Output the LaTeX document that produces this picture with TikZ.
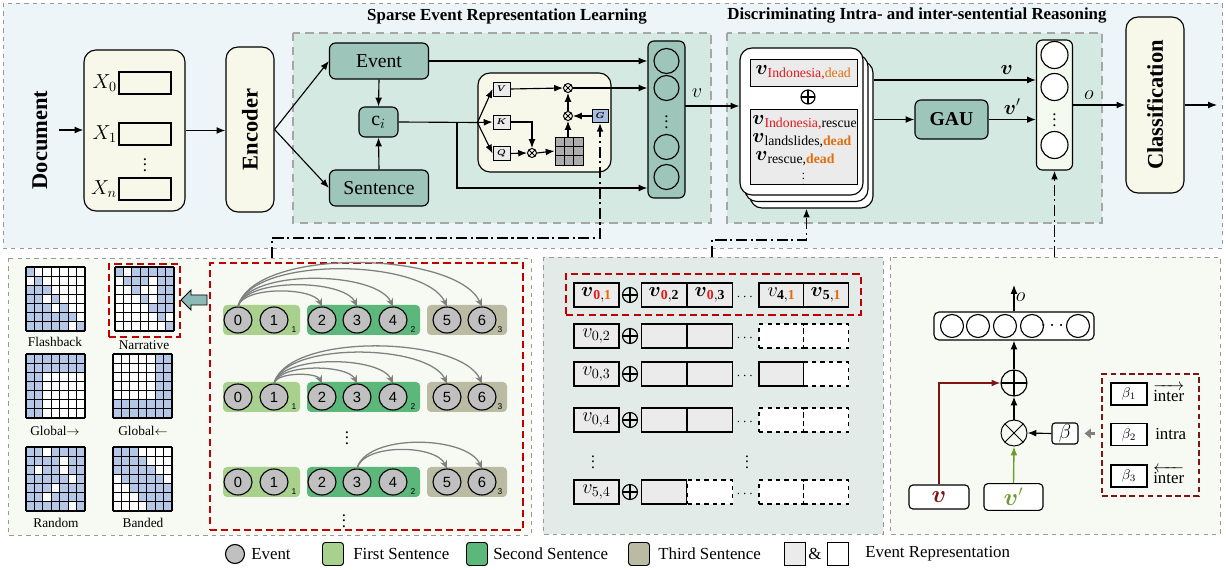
\documentclass[tikz,border=0pt]{standalone}
\usepackage{amsmath}
\usepackage{fontspec}
\setmainfont{Liberation Serif}
\newfontfamily\numfont{Liberation Sans}
\usepackage{tikz}
\usetikzlibrary{shapes.geometric,arrows.meta,positioning,calc}

\definecolor{topbg}{HTML}{EDF5F8}
\definecolor{innerbg}{HTML}{D5E9E3}
\definecolor{tealfill}{HTML}{9DC5B9}
\definecolor{cream}{HTML}{F8F8EA}
\definecolor{panelbg}{HTML}{F7FAF3}
\definecolor{midbg}{HTML}{E2EBE8}
\definecolor{maskblue}{HTML}{B4C7E7}
\definecolor{redline}{HTML}{C00000}
\definecolor{sentA}{HTML}{A9D18E}
\definecolor{sentB}{HTML}{5CB87A}
\definecolor{sentC}{HTML}{BBBAA3}
\definecolor{evgray}{HTML}{C0C0C0}
\definecolor{cellgray}{HTML}{EBEBEB}
\definecolor{gblue}{HTML}{A9BFE0}
\definecolor{darkred}{HTML}{7F1416}
\definecolor{vgreen}{HTML}{6E9B30}
\definecolor{indored}{HTML}{E3191C}
\definecolor{deadorange}{HTML}{E46C0A}
\definecolor{boxgray}{HTML}{A6A6A6}
\definecolor{lightcol}{HTML}{F4FAEF}
\definecolor{arrowteal}{HTML}{8DBAB9}

\newlength\unitpx
\setlength\unitpx{0.025cm}

% 7x7 attention mask, one list of blue columns per row
\newcommand{\maskgrid}[3]{%
  \fill[white] (#1,#2) rectangle ++(59,64);
  \foreach \cols [count=\rw from 0] in {#3} {
    \foreach \cl in \cols {
      \fill[maskblue] (#1+\cl*8.43,#2+\rw*9.14) rectangle ++(8.43,9.14);
    }
  }
  \foreach \k in {0,...,7} {
    \draw[line width=0.9pt] (#1+\k*8.43,#2) -- ++(0,64);
    \draw[line width=0.9pt] (#1,#2+\k*9.14) -- ++(59,0);
  }
}

\newcommand{\vsub}[1]{$\boldsymbol{v}_{\text{#1}}$}

\tikzset{
  arr/.style={-{Latex[length=2.2mm,width=1.7mm]}, line width=0.8pt},
  sz/.style 2 args={minimum width=#1\unitpx, minimum height=#2\unitpx},
  bigfont/.style={font=\fontsize{16}{18}\selectfont\bfseries},
  titlefont/.style={font=\fontsize{12}{14}\selectfont\bfseries},
  midfont/.style={font=\fontsize{14}{16}\selectfont},
  smallfont/.style={font=\fontsize{9.5}{11}\selectfont},
  legfont/.style={font=\fontsize{12}{14}\selectfont, inner sep=0pt, anchor=west},
  dotsfont/.style={font=\fontsize{#1}{#1}\selectfont, inner sep=0pt},
  tealbox/.style={draw, line width=0.8pt, fill=tealfill, rounded corners=6\unitpx, inner sep=0pt, midfont},
  creambox/.style={draw, line width=0.8pt, fill=cream, rounded corners=12\unitpx, inner sep=0pt},
  qkv/.style={draw, line width=0.6pt, fill=cellgray, inner sep=0pt, sz={17}{14}, font=\fontsize{6.5}{7}\selectfont},
  cell/.style={draw, line width=0.8pt, fill=cellgray, inner sep=0pt, sz={45}{24}, midfont},
  ghost/.style={draw, dashed, line width=0.8pt, fill=white, inner sep=0pt, sz={45}{24}},
  ev/.style={ellipse, draw, line width=0.8pt, fill=evgray, minimum width=28\unitpx, minimum height=26\unitpx, inner sep=0pt, font=\numfont\fontsize{10.5}{12}\selectfont},
  unit/.style={circle, draw, line width=0.8pt, fill=white, minimum size=#1\unitpx, inner sep=0pt},
  otimes/.style={circle, draw, line width=0.7pt, minimum size=#1\unitpx, inner sep=0pt,
    path picture={\draw[line width=0.6pt] (path picture bounding box.north west) -- (path picture bounding box.south east)
      (path picture bounding box.north east) -- (path picture bounding box.south west);}},
  oplus/.style={circle, draw, line width=0.8pt, minimum size=#1\unitpx, inner sep=0pt,
    path picture={\draw[line width=0.8pt] (path picture bounding box.north) -- (path picture bounding box.south)
      (path picture bounding box.west) -- (path picture bounding box.east);}},
  group/.style={rounded corners=4\unitpx, inner sep=0pt, sz={#1}{30}},
  subn/.style={font=\numfont\fontsize{6}{7}\selectfont, inner sep=0pt},
  hop/.style={draw=gray, line width=0.9pt, -{Stealth[length=2mm,width=1.8mm]}},
  dashdot/.style={line width=1.1pt, dash pattern=on 8pt off 2.5pt on 1.5pt off 2.5pt, -{Latex[length=2.2mm,width=1.7mm]}},
  panel/.style={draw=gray!80, dashed, line width=0.6pt},
  innerbox/.style={draw=boxgray, line width=1.6pt, dash pattern=on 6pt off 4pt, fill=innerbg},
  reddash/.style={draw=redline, line width=1.3pt, dash pattern=on 5pt off 3pt, inner sep=0pt},
  legbox/.style={draw, line width=0.7pt, rounded corners=3\unitpx, sz={21}{23}, inner sep=0pt},
}

\begin{document}
\begin{tikzpicture}[x=0.025cm, y=-0.025cm]
\useasboundingbox (0,0) rectangle (1226,570);

% panels
\draw[panel, fill=topbg] (3,3) rectangle (1222,248);
\draw[panel, fill=panelbg] (8,258) rectangle (531,535);
\draw[panel, fill=midbg] (543,257) rectangle (883,534);
\draw[panel, fill=panelbg] (890,257) rectangle (1220,534);
\draw[innerbox] (293,33) rectangle (711,223);
\draw[innerbox] (727,33) rectangle (1102,223);
\node[titlefont] (ttlA) at (507,17) {Sparse Event Representation Learning};
\node[titlefont] (ttlB) at (917,16) {Discriminating Intra- and inter-sentential Reasoning};

% input and encoder
\node[bigfont, rotate=90] (doc) at (40,140) {Document};
\node[creambox, sz={101}{161}] (xin) at (134.5,130.5) {};
\foreach \y/\s [count=\i] in {83/0, 134/1, 189/n} {
  \node[draw, line width=0.8pt, fill=cream, sz={52}{22}] (x\i) at (145,\y) {};
  \node[left=0pt of x\i, midfont, inner sep=1pt] (xl\i) {$X_{\s}$};
}
\node[dotsfont=12] (xdots) at (145,161) {$\vdots$};
\node[creambox, sz={48}{165}] (enc) at (250,129.5) {};
\node[bigfont, rotate=90] (enclbl) at (enc) {Encoder};
\coordinate (docout) at (59,130);
\draw[arr] (docout) -- (docout -| xin.west);
\draw[arr] (xin.east) -- (xin.east -| enc.west);

% sparse event representation
\node[tealbox, sz={99}{36}] (event) at (379,61) {Event};
\node[tealbox, sz={99}{36}] (sent) at (379,188) {Sentence};
\node[tealbox, sz={39}{30}] (ci) at (378.5,122) {$\mathrm{c}_i$};
\draw[arr] (enc.east) -- (event.west);
\draw[arr] (enc.east) -- (sent.west);
\draw[arr] (event.south) -- (ci.north);
\draw[arr] (sent.north) -- (ci.south);

\node[creambox, sz={133}{99}] (att) at (544.5,122.5) {};
\node[qkv] (V) at (501.5,89) {$\boldsymbol{V}$};
\node[qkv] (K) at (501.5,122) {$\boldsymbol{K}$};
\node[qkv] (Q) at (501.5,153.5) {$\boldsymbol{Q}$};
\node[qkv, fill=gblue, sz={16}{13}] (G) at (600,116) {$\boldsymbol{G}$};
\node[otimes=9] (mt) at (568,88) {};
\node[otimes=9] (mm) at (568,116) {};
\node[otimes=9] (mq) at (532,153) {};
\node[draw, line width=0.7pt, fill=gray!65, sz={28}{28}, inner sep=0pt] (score) at (569,151) {};
\foreach \k in {1,2} {
  \draw[line width=0.6pt] ($(score.north west)!\k/3!(score.north east)$) -- ($(score.south west)!\k/3!(score.south east)$);
  \draw[line width=0.6pt] ($(score.north west)!\k/3!(score.south west)$) -- ($(score.north east)!\k/3!(score.south east)$);
}
\node[tealbox, sz={37}{157}] (vec) at (666.5,119.5) {};
\foreach \y [count=\i] in {61,88,147,177}
  \node[unit=25, fill=tealfill] (vc\i) at (666.5,\y) {};
\node[dotsfont=12] (vecdots) at (666.5,118) {$\vdots$};
\node[midfont] (vlbl) at (697,93) {$v$};

\coordinate (br) at (att.west);
\coordinate (skip) at (457,122);
\draw[line width=0.8pt] (ci.east) -- (br);
\draw[arr] (br) -- (V.west);
\draw[arr] (br) -- (K.west);
\draw[arr] (br) -- (Q.west);
\draw[arr] (V.east) -- (mt.west);
\draw[arr] (K.east) -| (mq.north);
\draw[arr] (Q.east) -- (mq.west);
\draw[arr] (mq.east) -- (score.west);
\draw[arr] (mm.south |- score.north) -- (mm.south);
\draw[arr] (mm.north) -- (mt.south);
\draw[arr] (G.west) -- (mm.east);
\draw[arr] (event.east) -- (event.east -| vec.west);
\draw[arr] (mt.east) -- (mt.east -| vec.west);
\draw[arr] (skip) |- (vec.west |- sent.east);

% intra- and inter-sentential reasoning
\foreach \d/\nm in {10/stk3, 5/stk2, 0/stk1}
  \node[draw, line width=0.8pt, fill=white, rounded corners=12\unitpx, sz={123}{147}] (\nm) at (801.5+\d,121.5+1.3*\d) {};
\node[draw, line width=0.7pt, fill=cellgray, sz={107}{27}, inner sep=0pt, midfont] (pair) at (803.5,72.5)
  {\vsub{\textcolor{indored}{Indonesia,}\textcolor{deadorange}{dead}}};
\node[oplus=14] (sumA) at (808,97) {};
\node[draw, line width=0.7pt, fill=cellgray, sz={107}{75}] (ctx) at (803.5,146.5) {};
\node[midfont, anchor=west, inner sep=0pt] (ctx1) at (752,123) {\vsub{\textcolor{indored}{Indonesia,}rescue}};
\node[midfont, anchor=west, inner sep=0pt] (ctx2) at (752,141) {\vsub{landslides,\textcolor{deadorange}{\bfseries dead}}};
\node[midfont, anchor=west, inner sep=0pt] (ctx3) at (755,159) {\vsub{rescue,\textcolor{deadorange}{\bfseries dead}}};
\node[dotsfont=9] (ctxdots) at (803.5,175) {$\vdots$};
\coordinate (vout) at (685,106);
\draw[arr] (vout) -- (vout -| stk1.west);

\node[tealbox, font=\fontsize{14}{16}\selectfont\bfseries, sz={73}{39}] (gau) at (951.5,119.5) {GAU};
\node[draw, line width=0.8pt, fill=lightcol, rounded corners=6\unitpx, sz={36}{130}] (col2) at (1054.5,105) {};
\foreach \y [count=\i] in {55,87,145}
  \node[unit=27] (cc\i) at (1054.5,\y) {};
\node[dotsfont=12] (coldots) at (1054.5,116) {$\vdots$};
\node[creambox, sz={58}{176}] (cls) at (1155,105) {};
\node[bigfont, rotate=90] (clslbl) at (cls) {Classification};
\coordinate (vtop) at (874,80);
\coordinate (clsout) at (1217,105);
\draw[arr] (vtop) -- (vtop -| col2.west) node[pos=0.82, above, midfont] {$\boldsymbol{v}$};
\draw[arr] (stk3.east |- gau.west) -- (gau.west);
\draw[arr] (gau.east) -- (gau.east -| col2.west) node[midway, above, midfont] {$\boldsymbol{v}'$};
\draw[arr] (col2.east) -- (col2.east -| cls.west) node[pos=0.3, above, midfont] {$o$};
\draw[arr] (cls.east) -- (clsout);

% links from the bottom panels
\coordinate (mskin) at (272,258);
\coordinate (repin) at (712,257);
\coordinate (gauin) at (1054.5,257);
\draw[dashdot] (mskin) -- ++(0,-20) -| (G.south);
\draw[dashdot] (repin) -- ++(0,-17) -| (stk2.south |- stk3.south);
\draw[dashdot] (gauin) -- (col2.south);

% attention masks
\maskgrid{26}{267}{{0},{1},{0,1,2},{0,1,3},{0,1,2,4},{0,1,2,3,4,5},{0,1,2,3,4,6}}
\maskgrid{115}{267}{{0,2,3,4,5,6},{1,2,3,5,6},{2,5,6},{3,5,6},{4,5,6},{5},{6}}
\maskgrid{26}{354}{{0,1,2,3,4,5,6},{0,1,2,3,4,5,6},{0,1},{0,1},{0,1},{0,1},{0,1}}
\maskgrid{113}{354}{{5,6},{5,6},{5,6},{5,6},{5,6},{0,1,2,3,4,5,6},{0,1,2,3,4,5,6}}
\maskgrid{26}{447}{{0,1,3,4,5,6},{0,1,2,3,5,6},{0,2,3,5,6},{0,1,2,3,4,6},{0,1,2,4,5,6},{0,1,3,4,5,6},{0,1,2,3,4,6}}
\maskgrid{113}{447}{{0,1,2},{0,1,2,3},{0,1,2,3,4},{1,2,3,4,5},{2,3,4,5,6},{3,4,5,6},{4,5,6}}
\node[smallfont] (mlA) at (55,342) {Flashback};
\node[smallfont] (mlB) at (144,345) {Narrative};
\node[smallfont] (mlC) at (55,431) {Global$\rightarrow$};
\node[smallfont] (mlD) at (143,431) {Global$\leftarrow$};
\node[smallfont] (mlE) at (56,523) {Random};
\node[smallfont] (mlF) at (143,523) {Banded};
\node[reddash, sz={71}{73}] (narbox) at (144.5,300.5) {};
\draw[line width=0.6pt, fill=arrowteal] (181,300) -- (191,290) -- (191,295) -- (207,295)
  -- (207,305) -- (191,305) -- (191,310) -- cycle;

% sentence graphs
\node[reddash, sz={313}{267}] (sentbox) at (366.5,396.5) {};
\foreach \y [count=\rr] in {320,397,482} {
  \node[group=77, fill=sentA] (g\rr a) at (261.5,\y) {};
  \node[group=113, fill=sentB] (g\rr b) at (363.5,\y) {};
  \node[group=80, fill=sentC] (g\rr c) at (467,\y) {};
  \foreach \x [count=\kk from 0] in {238,274,322,357,393,447,482}
    \node[ev] (e\rr-\kk) at (\x,\y) {\kk};
  \node[subn] (s\rr a) at (294,\y+10) {1};
  \node[subn] (s\rr b) at (413,\y+10) {2};
  \node[subn] (s\rr c) at (500,\y+10) {3};
}
\foreach \t in {2,...,6}
  \draw[hop] (e1-0.north) to[out=75,in=115,looseness=0.65] (e1-\t.north);
\foreach \t in {2,...,6}
  \draw[hop] (e2-1.north) to[out=75,in=115,looseness=0.65] (e2-\t.north);
\foreach \t in {5,6}
  \draw[hop] (e3-3.north) to[out=75,in=115,looseness=0.75] (e3-\t.north);
\node[dotsfont=12] (sdA) at (347,434) {$\vdots$};
\node[dotsfont=12] (sdB) at (344,517) {$\vdots$};

% event representations
\node[reddash, sz={295}{41}] (rowbox) at (713.5,294.5) {};
\node[cell] (a1) at (596.5,295) {$\boldsymbol{v}_{\mathbf{\color{indored}0},\mathbf{\color{deadorange}1}}$};
\node[oplus=15] (p1) at (630,295) {};
\node[cell] (b1) at (664,295) {$\boldsymbol{v}_{\mathbf{\color{indored}0},\mathbf{2}}$};
\node[cell] (bb1) at (710,295) {$\boldsymbol{v}_{\mathbf{\color{indored}0},\mathbf{3}}$};
\node[font=\fontsize{10}{12}\selectfont] (d1) at (746,297) {$\cdots$};
\node[cell] (c1) at (781.5,295) {$v_{\mathbf{4},\mathbf{\color{deadorange}1}}$};
\node[cell] (cc1) at (826,295) {$\boldsymbol{v}_{\mathbf{5},\mathbf{\color{deadorange}1}}$};
\foreach \y/\lab/\ba/\bb/\ca/\cb [count=\rr from 2] in
  {336/{0,2}/cell/cell/ghost/ghost, 374/{0,3}/cell/cell/cell/ghost,
   420/{0,4}/cell/cell/ghost/ghost, 492/{5,4}/cell/ghost/ghost/ghost} {
  \node[cell] (a\rr) at (596.5,\y) {$v_{\lab}$};
  \node[oplus=15] (p\rr) at (630,\y) {};
  \node[\ba] (b\rr) at (664,\y) {};
  \node[\bb] (bb\rr) at (710,\y) {};
  \node[font=\fontsize{10}{12}\selectfont] (d\rr) at (746,\y+2) {$\cdots$};
  \node[\ca] (c\rr) at (781.5,\y) {};
  \node[\cb] (cc\rr) at (826,\y) {};
}
\node[dotsfont=11] (rdA) at (593,458) {$\vdots$};
\node[dotsfont=11] (rdB) at (747,458) {$\vdots$};

% gated aggregation
\node[draw, line width=0.8pt, fill=white, rounded corners=5\unitpx, sz={160}{28}] (outv) at (1014,326) {};
\foreach \x [count=\i] in {952,978,1005,1032,1078}
  \node[unit=23] (o\i) at (\x,326) {};
\node[midfont] (odots) at (1054,326) {$\cdots$};
\coordinate (oout) at (1014,285);
\draw[arr] (outv.north) -- (oout) node[pos=0.55, right, midfont, inner sep=1pt] {$o$};
\node[oplus=26] (sumB) at (1014,383) {};
\node[otimes=26] (mulB) at (1014,433) {};
\node[draw, line width=0.8pt, fill=white, rounded corners=3\unitpx, sz={26}{21}, inner sep=0pt, midfont] (beta) at (1065,433.5) {$\beta$};
\node[draw, line width=0.8pt, fill=white, rounded corners=4\unitpx, sz={60}{24}, font=\fontsize{16}{18}\selectfont] (vb) at (939,497) {\color{darkred}$\boldsymbol{v}$};
\node[draw, line width=0.8pt, fill=white, rounded corners=4\unitpx, sz={59}{24}, font=\fontsize{16}{18}\selectfont] (vpb) at (1013.5,497) {\color{vgreen}$\boldsymbol{v}'$};
\draw[arr] (mulB.north) -- (sumB.south);
\draw[arr] (sumB.north) -- (outv.south);
\draw[arr] (beta.west) -- (mulB.east);
\draw[arr, darkred, line width=1pt] (vb.north) |- (sumB.west);
\draw[arr, vgreen, line width=1pt] (vpb.north) -- (mulB.south);
\node[draw=darkred, line width=0.9pt, dash pattern=on 4pt off 2.5pt, sz={97}{122}, inner sep=0pt] (betaset) at (1150.5,435) {};
\foreach \y/\lab [count=\i] in {394/{$\beta_1$}, 434.5/{$\beta_2$}, 476/{$\beta_3$}}
  \node[draw, line width=0.8pt, fill=white, sz={36}{22}, font=\fontsize{10}{12}\selectfont] (bb\i) at (1129,\y) {\lab};
\node[font=\fontsize{12}{14}\selectfont, anchor=west, inner sep=0pt] (dirA) at (1153,393) {$\overrightarrow{\mbox{inter}}$};
\node[font=\fontsize{12}{14}\selectfont, anchor=west, inner sep=0pt] (dirB) at (1155,434) {intra};
\node[font=\fontsize{12}{14}\selectfont, anchor=west, inner sep=0pt] (dirC) at (1153,475) {$\overleftarrow{\mbox{inter}}$};
\draw[-{Triangle[length=1.6mm,width=2.4mm]}, gray, line width=2.2pt] ($(betaset.west |- beta.east)+(-6,0)$) -- ($(beta.east)+(6,0)$);

% legend
\node[ev, minimum width=19\unitpx, minimum height=19\unitpx] (lgA) at (235,554) {};
\node[legfont] (ltA) at (251,554) {Event};
\node[legbox, fill=sentA] (lgB) at (333,554) {};
\node[legfont] (ltB) at (353,554) {First Sentence};
\node[legbox, fill=sentB] (lgC) at (477,554) {};
\node[legfont] (ltC) at (493,554) {Second Sentence};
\node[legbox, fill=sentC] (lgD) at (639,554) {};
\node[legfont] (ltD) at (658,554) {Third Sentence};
\node[legbox, fill=cellgray, rounded corners=0pt] (lgE) at (795,554) {};
\node[legfont] (ltE) at (808,554) {\&};
\node[legbox, fill=white, rounded corners=0pt] (lgF) at (838,554) {};
\node[legfont] (ltF) at (865,554) {Event Representation};
\end{tikzpicture}
\end{document}
